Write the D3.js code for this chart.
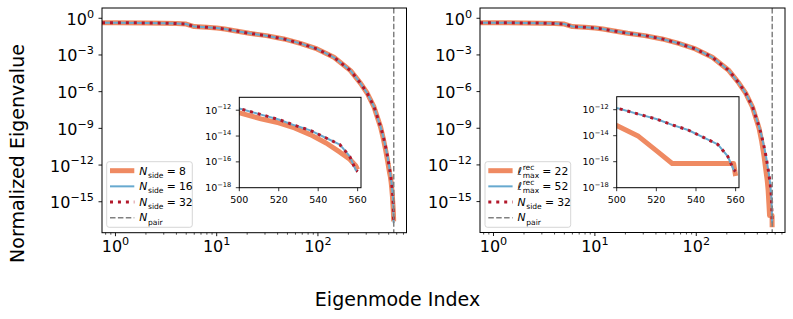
<!DOCTYPE html>
<html><head><meta charset="utf-8">
<script src="https://cdn.jsdelivr.net/npm/d3@7"></script>
<style>
body{margin:0;background:#fff}
svg{display:block}
text{font-family:"DejaVu Sans",sans-serif;fill:#000}
</style>
</head><body><div id="chart"></div>
<script>
// ---------------- data ----------------
const modeIndex = [1,2,3,4,5,6,8,10,11,12,15,21,31,46,67,98,144,210,264,307,358,416,440,466,490,500,511,520,528,536,544,551,556,559,560];
const log10EigNside32 = [-0.36,-0.38,-0.40,-0.43,-0.47,-0.68,-0.74,-0.80,-0.84,-0.88,-1.02,-1.23,-1.42,-1.69,-2.05,-2.51,-3.19,-4.28,-5.32,-6.13,-7.23,-8.87,-9.60,-10.50,-11.40,-11.87,-12.34,-12.72,-13.17,-13.56,-14.15,-14.67,-15.58,-16.62,-16.75];
const log10EigNside16 = [-0.36,-0.38,-0.40,-0.43,-0.47,-0.68,-0.74,-0.80,-0.84,-0.88,-1.02,-1.23,-1.42,-1.69,-2.05,-2.51,-3.19,-4.28,-5.32,-6.13,-7.23,-8.87,-9.60,-10.50,-11.40,-11.87,-12.34,-12.72,-13.17,-13.56,-14.15,-14.67,-15.58,-16.62,-16.75];
const log10EigNside8  = [-0.36,-0.38,-0.40,-0.43,-0.47,-0.68,-0.74,-0.80,-0.84,-0.88,-1.02,-1.23,-1.42,-1.69,-2.05,-2.51,-3.19,-4.28,-5.32,-6.13,-7.25,-8.90,-9.75,-10.75,-11.75,-12.20,-12.67,-12.98,-13.37,-13.89,-14.54,-15.25,-15.80,-16.30,-16.60];
const log10EigLmax52  = [-0.36,-0.38,-0.40,-0.43,-0.47,-0.68,-0.74,-0.80,-0.84,-0.88,-1.02,-1.23,-1.42,-1.69,-2.05,-2.51,-3.19,-4.28,-5.32,-6.13,-7.23,-8.87,-9.60,-10.50,-11.40,-11.87,-12.34,-12.72,-13.17,-13.56,-14.15,-14.67,-15.58,-16.62,-16.75];
const log10EigLmax22  = [-0.36,-0.38,-0.40,-0.43,-0.47,-0.68,-0.74,-0.80,-0.84,-0.88,-1.02,-1.23,-1.42,-1.69,-2.05,-2.51,-3.19,-4.28,-5.32,-6.13,-7.26,-9.00,-10.00,-11.30,-12.70,-13.22,-14.05,-15.15,-16.14,-16.14,-16.14,-16.14,-16.14,-16.14,-17.10];
const nPair = 561;
const mainXTickExp = [0,1,2];
const mainYTickExp = [0,-3,-6,-9,-12,-15];
const insetXTicks = [500,520,540,560];
const insetYTickExp = [-12,-14,-16,-18];
const xLabel = "Eigenmode Index";
const yLabel = "Normalized Eigenvalue";

// ---------------- styles ----------------
const C_OR = "#ef8a62", C_BL = "#67a9cf", C_RD = "#b2182b", C_GR = "#808080";
const series = (arr) => modeIndex.map((i,k)=>({i, v: Math.pow(10, arr[k])}));
const labN = (val)=>[{t:"N",it:1},{t:"side",sub:1},{t:"=",dx:3.2},{t:val,dx:3.2}];
const labL = (val)=>[{t:"\u2113",it:1},{t:"rec",sup:1,stack:1},{t:"max",sub:1},{t:"=",dx:3.2},{t:val,dx:3.2}];

const panels = [
  { box:{l:102,t:8,r:406.5,b:232.7}, inset:{l:239.3,t:97.3,r:361,b:187.7}, legend:{l:106.7,t:161.7,w:85.6,h:65.6},
    lines:[
      {d:series(log10EigNside8), color:C_OR, w:5, lab:labN("8")},
      {d:series(log10EigNside16), color:C_BL, w:2, lab:labN("16")},
      {d:series(log10EigNside32), color:C_RD, w:3, dash:"3 4.95", lab:labN("32")}
    ]},
  { box:{l:480,t:8,r:785,b:232.5}, inset:{l:616.7,t:96.7,r:739,b:187.7}, legend:{l:485,t:161.7,w:85.7,h:65.6},
    lines:[
      {d:series(log10EigLmax22), color:C_OR, w:5, lab:labL("22")},
      {d:series(log10EigLmax52), color:C_BL, w:2, lab:labL("52")},
      {d:series(log10EigNside32), color:C_RD, w:3, dash:"3 4.95", lab:labN("32")}
    ]}
];

const svg = d3.select("#chart").append("svg").attr("width",793).attr("height",319);

function powLabel(sel, base, exp, size){
  sel.append("tspan").attr("font-size",size).text(base);
  sel.append("tspan").attr("font-size",size*0.7).attr("dy",-size*0.45).text(exp<0?"\u2212"+(-exp):String(exp));
}

// one <text> element with absolutely positioned tspans (mathtext-like)
function mathText(g, x, y, parts, size){
  const tmp = g.append("text").attr("visibility","hidden");
  const widths = parts.map(p=>{
    const fs = (p.sub||p.sup)? size*0.7 : size;
    tmp.attr("font-size",fs).attr("font-style",p.it?"italic":"normal").text(p.t);
    return tmp.node().getComputedTextLength();
  });
  tmp.remove();
  const t = g.append("text");
  let cx = x, stackStart = null, stackW = 0;
  parts.forEach((p,k)=>{
    const fs = (p.sub||p.sup)? size*0.7 : size;
    const dy = p.sub ? size*0.3 : (p.sup ? -size*0.45 : 0);
    const startX = stackStart!==null ? stackStart : cx + (p.dx||0);
    t.append("tspan").attr("x",startX).attr("y",y+dy).attr("font-size",fs)
      .attr("font-style",p.it?"italic":"normal").text(p.t);
    const w = widths[k];
    if(p.stack){ stackStart = startX; stackW = w; }
    else if(stackStart!==null){ cx = stackStart + Math.max(w,stackW); stackStart=null; }
    else cx = startX + w + (p.it?0.6:0);
  });
}

panels.forEach((P,pi)=>{
  const B = P.box;
  const x = d3.scaleLog().domain([Math.pow(10,-0.133), Math.pow(10,2.875)]).range([B.l,B.r]);
  const y = d3.scaleLog().domain([Math.pow(10,-17.53), Math.pow(10,0.84)]).range([B.b,B.t]);
  const g = svg.append("g");
  const cid = "clip"+pi;
  svg.append("clipPath").attr("id",cid).append("rect").attr("x",B.l).attr("y",B.t).attr("width",B.r-B.l).attr("height",B.b-B.t);

  const xmin = x.domain()[0], xmax = x.domain()[1];
  const minors = [];
  for(let e=-1;e<=3;e++) for(let m=2;m<=9;m++){ const v=m*Math.pow(10,e); if(v>=xmin&&v<=xmax) minors.push(v); }
  g.selectAll(".xminor").data(minors).join("line").attr("x1",d=>x(d)).attr("x2",d=>x(d))
    .attr("y1",B.b).attr("y2",B.b+2).attr("stroke","#000").attr("stroke-width",0.7);
  mainXTickExp.forEach(e=>{
    const v = Math.pow(10,e);
    g.append("line").attr("x1",x(v)).attr("x2",x(v)).attr("y1",B.b).attr("y2",B.b+3.5).attr("stroke","#000").attr("stroke-width",0.9);
    const t = g.append("text").attr("x",x(v)).attr("y",B.b+19.5).attr("text-anchor","middle");
    powLabel(t,"10",e,16);
  });
  mainYTickExp.forEach(e=>{
    const v = Math.pow(10,e);
    g.append("line").attr("x1",B.l-3.5).attr("x2",B.l).attr("y1",y(v)).attr("y2",y(v)).attr("stroke","#000").attr("stroke-width",0.9);
    const t = g.append("text").attr("x",B.l-8).attr("y",y(v)+6.5).attr("text-anchor","end");
    powLabel(t,"10",e,16);
  });

  const lg = g.append("g").attr("clip-path",`url(#${cid})`);
  const line = d3.line().x(d=>x(d.i)).y(d=>y(d.v));
  P.lines.forEach(L=>{
    const d = [{i:xmin, v:L.d[0].v}].concat(L.d);
    lg.append("path").attr("d",line(d)).attr("fill","none").attr("stroke",L.color).attr("stroke-width",L.w)
      .attr("stroke-dasharray",L.dash||null).attr("stroke-linejoin","round");
  });
  lg.append("line").attr("x1",x(nPair)).attr("x2",x(nPair)).attr("y1",B.t).attr("y2",B.b)
    .attr("stroke",C_GR).attr("stroke-width",1.5).attr("stroke-dasharray","5.5 2.4");

  g.append("rect").attr("x",B.l).attr("y",B.t).attr("width",B.r-B.l).attr("height",B.b-B.t)
    .attr("fill","none").attr("stroke","#000").attr("stroke-width",1);

  const Lg = P.legend;
  const leg = g.append("g");
  leg.append("rect").attr("x",Lg.l).attr("y",Lg.t).attr("width",Lg.w).attr("height",Lg.h).attr("rx",2.5)
    .attr("fill","#fff").attr("fill-opacity",0.8).attr("stroke","#cccccc").attr("stroke-width",0.8);
  const rows = P.lines.map(L=>({color:L.color,w:L.w,dash:L.dash,lab:L.lab}))
    .concat([{color:C_GR,w:1.5,dash:"5.5 2.4",lab:[{t:"N",it:1},{t:"pair",sub:1}]}]);
  rows.forEach((R,k)=>{
    const cy = Lg.t + 9 + k*15.65;
    leg.append("line").attr("x1",Lg.l+3.3).attr("x2",Lg.l+27.6).attr("y1",cy).attr("y2",cy)
      .attr("stroke",R.color).attr("stroke-width",R.w).attr("stroke-dasharray",R.dash||null);
    mathText(leg, Lg.l+32.6, cy+3.8, R.lab, 10.8);
  });

  const I = P.inset;
  const xi = d3.scaleLinear().domain([500,561.7]).range([I.l,I.r]);
  const yi = d3.scaleLog().domain([1e-18,1e-11]).range([I.b,I.t]);
  const ig = svg.append("g");
  const iid = "iclip"+pi;
  svg.append("clipPath").attr("id",iid).append("rect").attr("x",I.l).attr("y",I.t).attr("width",I.r-I.l).attr("height",I.b-I.t);
  ig.append("rect").attr("x",I.l).attr("y",I.t).attr("width",I.r-I.l).attr("height",I.b-I.t).attr("fill","#fff");
  const il = ig.append("g").attr("clip-path",`url(#${iid})`);
  const iline = d3.line().x(d=>xi(d.i)).y(d=>yi(d.v));
  P.lines.forEach(L=>{
    const d = L.d.filter(p=>p.i>=490);
    il.append("path").attr("d",iline(d)).attr("fill","none").attr("stroke",L.color).attr("stroke-width",L.w)
      .attr("stroke-dasharray",L.dash||null).attr("stroke-linejoin","round");
  });
  ig.append("rect").attr("x",I.l).attr("y",I.t).attr("width",I.r-I.l).attr("height",I.b-I.t)
    .attr("fill","none").attr("stroke","#000").attr("stroke-width",1);
  insetXTicks.forEach(v=>{
    ig.append("line").attr("x1",xi(v)).attr("x2",xi(v)).attr("y1",I.b).attr("y2",I.b+3.5).attr("stroke","#000").attr("stroke-width",0.8);
    ig.append("text").attr("x",xi(v)).attr("y",I.b+15).attr("text-anchor","middle").attr("font-size",9.5).text(v);
  });
  insetYTickExp.forEach(e=>{
    const v = Math.pow(10,e);
    ig.append("line").attr("x1",I.l-3.5).attr("x2",I.l).attr("y1",yi(v)).attr("y2",yi(v)).attr("stroke","#000").attr("stroke-width",0.8);
    const t = ig.append("text").attr("x",I.l-8).attr("y",yi(v)+3.5).attr("text-anchor","end");
    powLabel(t,"10",e,9.5);
  });
});

svg.append("text").attr("x",397.5).attr("y",306).attr("text-anchor","middle").attr("font-size",19).text(xLabel);
svg.append("text").attr("transform","translate(23.5,153.5) rotate(-90)").attr("text-anchor","middle").attr("font-size",19).text(yLabel);
</script>
</body></html>
